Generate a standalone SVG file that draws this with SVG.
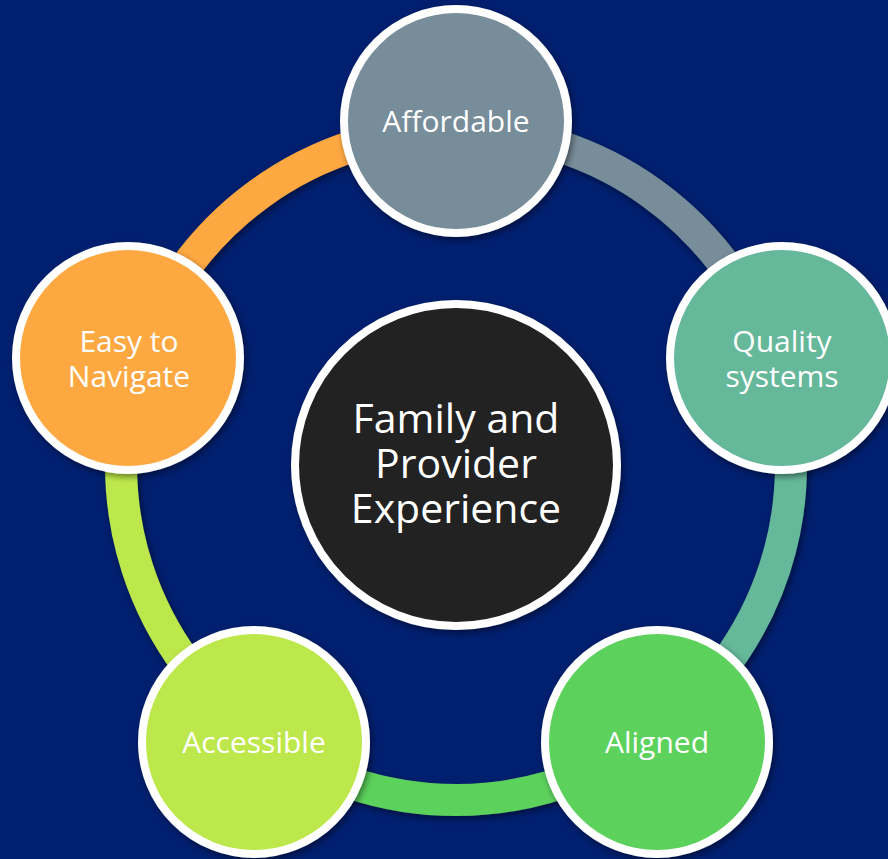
<svg xmlns="http://www.w3.org/2000/svg" width="888" height="859" viewBox="0 0 888 859">
<defs>
<filter id="sh" filterUnits="userSpaceOnUse" x="0" y="0" width="888" height="859">
<feDropShadow dx="2" dy="3" stdDeviation="3" flood-color="#000" flood-opacity="0.45"/>
</filter>
<style>
.arc{fill:none;stroke-width:32;filter:url(#sh)}
.node circle{stroke:#fff;stroke-width:8;filter:url(#sh)}
.lbl{font-family:"Open Sans","Noto Sans","DejaVu Sans",sans-serif;fill:#fff;text-anchor:middle;font-size:30px}
.big{font-size:41px}
</style>
</defs>
<rect width="888" height="859" fill="#011f6f"/>
<g id="connectors">
<path class="arc" stroke="#778d99" d="M456 130 A335 335 0 0 1 774.6 361.5"/>
<path class="arc" stroke="#66b89b" d="M774.6 361.5 A335 335 0 0 1 652.9 736"/>
<path class="arc" stroke="#5cd15c" d="M652.9 736 A335 335 0 0 1 259.1 736"/>
<path class="arc" stroke="#bde84c" d="M259.1 736 A335 335 0 0 1 137.4 361.5"/>
<path class="arc" stroke="#fea843" d="M137.4 361.5 A335 335 0 0 1 456 130"/>
</g>
<g id="center" class="node">
<circle cx="456" cy="465" r="161" fill="#222222"/>
<text class="lbl big" x="456" y="433">Family and</text>
<text class="lbl big" x="456" y="478">Provider</text>
<text class="lbl big" x="456" y="523">Experience</text>
</g>
<g id="affordable" class="node">
<circle cx="456" cy="121" r="112" fill="#778d99"/>
<text class="lbl" x="456" y="132">Affordable</text>
</g>
<g id="quality" class="node">
<circle cx="782" cy="358" r="112" fill="#66b89b"/>
<text class="lbl" x="782" y="352">Quality</text>
<text class="lbl" x="782" y="387">systems</text>
</g>
<g id="aligned" class="node">
<circle cx="657" cy="742" r="112" fill="#5cd15c"/>
<text class="lbl" x="657" y="753">Aligned</text>
</g>
<g id="accessible" class="node">
<circle cx="254" cy="742" r="112" fill="#bde84c"/>
<text class="lbl" x="254" y="753">Accessible</text>
</g>
<g id="easy" class="node">
<circle cx="128" cy="358" r="112" fill="#fea843"/>
<text class="lbl" x="129" y="352">Easy to</text>
<text class="lbl" x="129" y="387">Navigate</text>
</g>
</svg>
